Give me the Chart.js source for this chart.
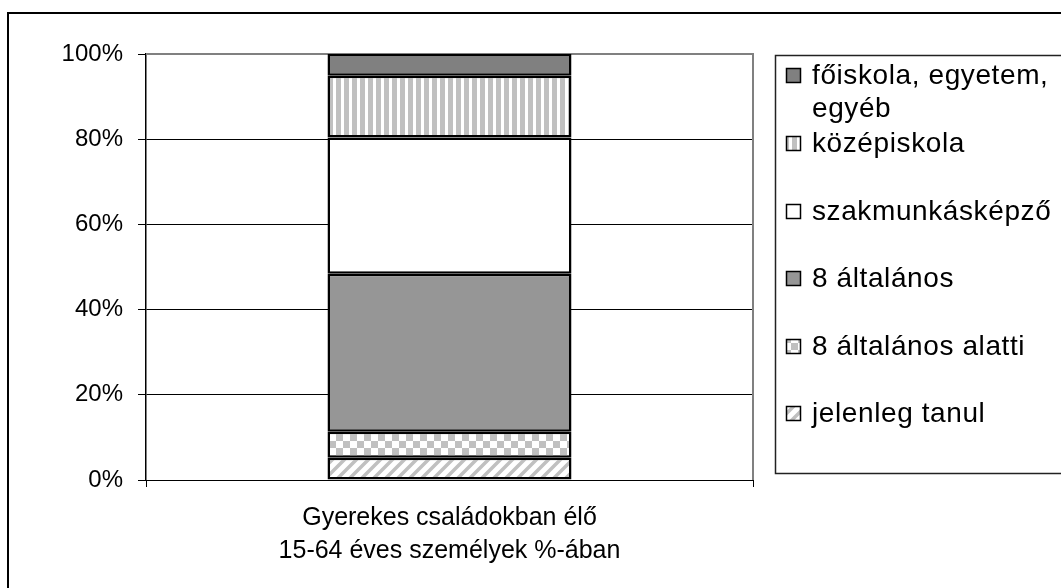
<!DOCTYPE html>
<html>
<head>
<meta charset="utf-8">
<script src="https://cdn.jsdelivr.net/npm/chart.js@4/dist/chart.umd.min.js"></script>
<style>
  html, body { margin: 0; padding: 0; background: #fff; }
  #wrap { width: 1061px; height: 588px; }
</style>
</head>
<body>
<div id="wrap"><canvas id="chart"></canvas></div>
<script>
const categories = [['Gyerekes családokban élő', '15-64 éves személyek %-ában']];
const seriesNames = ['jelenleg tanul', '8 általános alatti', '8 általános', 'szakmunkásképző', 'középiskola', 'főiskola, egyetem, egyéb'];
const seriesValues = [5.2, 6.1, 37.1, 32.0, 14.5, 5.1];
const yTicks = [0, 20, 40, 60, 80, 100];

const FONT = '"Liberation Sans", Arial, sans-serif';

function makeTile(size, draw) {
    const c = document.createElement('canvas');
    c.width = size;
    c.height = size;
    const g = c.getContext('2d');
    g.fillStyle = '#fff';
    g.fillRect(0, 0, size, size);
    draw(g, size);
    return document.createElement('canvas').getContext('2d').createPattern(c, 'repeat');
}

const diagonal = makeTile(12, (g, s) => {
    g.strokeStyle = '#c0c0c0';
    g.lineWidth = 3.5;
    g.beginPath();
    g.moveTo(-3, s + 3); g.lineTo(s + 3, -3);
    g.moveTo(-3, 3); g.lineTo(3, -3);
    g.moveTo(s - 3, s + 3); g.lineTo(s + 3, s - 3);
    g.stroke();
});
const checker = makeTile(14, (g, s) => {
    g.fillStyle = '#c0c0c0';
    g.fillRect(0, 0, s / 2, s / 2);
    g.fillRect(s / 2, s / 2, s / 2, s / 2);
});
const vertical = makeTile(8, (g, s) => {
    g.fillStyle = '#c0c0c0';
    g.fillRect(0, 0, 5, s);
});

const fills = [diagonal, checker, '#969696', '#ffffff', vertical, '#808080'];

const frame = {
    id: 'frame',
    beforeDraw(chart) {
        const { ctx, width, height } = chart;
        ctx.save();
        ctx.fillStyle = '#fff';
        ctx.fillRect(0, 0, width, height);
        ctx.restore();
    },
    beforeDatasetsDraw(chart) {
        const { ctx, chartArea: { left, top, bottom, right } } = chart;
        ctx.save();
        // plot area border, top and right
        ctx.strokeStyle = '#808080';
        ctx.lineWidth = 2;
        ctx.beginPath();
        ctx.moveTo(left, top);
        ctx.lineTo(right, top);
        ctx.lineTo(right, bottom);
        ctx.stroke();
        ctx.restore();
    },
    afterDraw(chart) {
        const { ctx } = chart;
        ctx.save();
        // outer border
        ctx.strokeStyle = '#000';
        ctx.lineWidth = 2;
        ctx.beginPath();
        ctx.moveTo(8, 600);
        ctx.lineTo(8, 13);
        ctx.lineTo(1070, 13);
        ctx.stroke();

        // legend box
        const lx = 775.5, ly = 55.5, lb = 473.5;
        ctx.lineWidth = 1.5;
        ctx.strokeStyle = '#222';
        ctx.beginPath();
        ctx.moveTo(1070, ly);
        ctx.lineTo(lx, ly);
        ctx.lineTo(lx, lb);
        ctx.lineTo(1070, lb);
        ctx.stroke();

        ctx.font = '28px ' + FONT;
        ctx.letterSpacing = '0.6px';
        ctx.textBaseline = 'middle';
        const rows = [76, 144, 212, 279, 347, 414];
        const ds = chart.data.datasets.slice().reverse();
        ds.forEach((d, i) => {
            const y = rows[i];
            ctx.fillStyle = d.backgroundColor;
            ctx.fillRect(786, y - 8, 15, 15);
            ctx.strokeStyle = '#000';
            ctx.lineWidth = 1.5;
            ctx.strokeRect(786.5, y - 7.5, 14, 14);
            ctx.fillStyle = '#000';
            // wrap long labels
            const words = d.label.split(' ');
            const lines = [];
            let cur = '';
            words.forEach(w => {
                const t = cur ? cur + ' ' + w : w;
                if (ctx.measureText(t).width > 248 && cur) {
                    lines.push(cur);
                    cur = w;
                } else {
                    cur = t;
                }
            });
            lines.push(cur);
            lines.forEach((l, k) => ctx.fillText(l, 812, y + k * 33));
        });
        ctx.restore();
    }
};

new Chart(document.getElementById('chart'), {
    type: 'bar',
    data: {
        labels: categories,
        datasets: seriesNames.map((name, i) => ({
            label: name,
            data: [seriesValues[i]],
            backgroundColor: fills[i],
            borderColor: '#000',
            borderWidth: 2.5,
            borderSkipped: false,
            barPercentage: 0.402,
            categoryPercentage: 1
        }))
    },
    options: {
        responsive: true,
        maintainAspectRatio: false,
        animation: false,
        devicePixelRatio: 1,
        layout: {
            padding: { left: 0, top: 54, right: 308, bottom: 0 }
        },
        scales: {
            x: {
                stacked: true,
                afterFit(scale) { scale.height = 108; },
                grid: {
                    drawOnChartArea: false,
                    tickLength: 7,
                    color: '#000'
                },
                border: { color: '#000', width: 1 },
                ticks: {
                    color: '#000',
                    padding: 15,
                    font: { family: FONT, size: 25, lineHeight: 1.3 }
                }
            },
            y: {
                stacked: true,
                min: 0,
                max: 100,
                afterFit(scale) { scale.width = 146; },
                afterBuildTicks(scale) { scale.ticks = yTicks.map(v => ({ value: v })); },
                grid: {
                    color: c => (c.tick && c.tick.value === 100 ? '#808080' : '#000'),
                    lineWidth: 1,
                    tickLength: 8,
                    tickColor: '#000'
                },
                border: { color: '#000', width: 1.5 },
                ticks: {
                    color: '#000',
                    padding: 15,
                    font: { family: FONT, size: 24 },
                    callback: v => v + '%'
                }
            }
        },
        plugins: {
            legend: { display: false },
            tooltip: { enabled: false }
        }
    },
    plugins: [frame]
});
</script>
</body>
</html>
